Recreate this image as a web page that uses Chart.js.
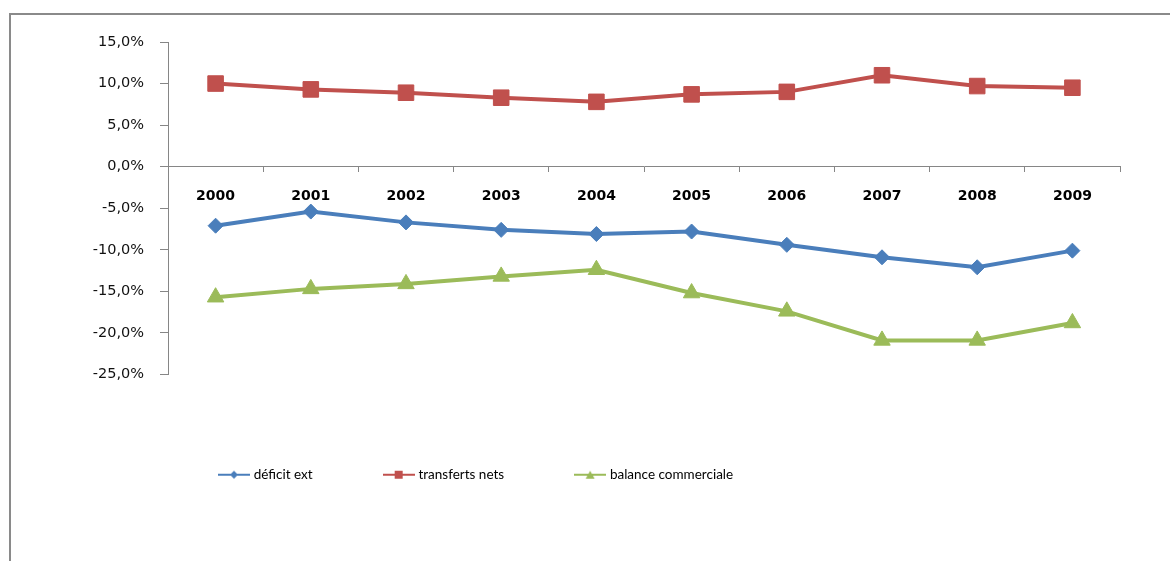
<!DOCTYPE html>
<html>
<head>
<meta charset="utf-8">
<script src="https://cdn.jsdelivr.net/npm/chart.js@4/dist/chart.umd.min.js"></script>
<style>
  body { margin: 0; background: #fff; }
  #frame {
    position: absolute; left: 9px; top: 13px; width: 1200px; height: 600px;
    border-top: 2px solid #8a8a8a; border-left: 2px solid #8a8a8a;
  }
  #my-chart { position: absolute; left: 0; top: 0; }
</style>
</head>
<body>
<div id="frame"></div>
<canvas id="my-chart" width="1170" height="561"></canvas>
<script>

let years = ['2000', '2001', '2002', '2003', '2004', '2005', '2006', '2007', '2008', '2009'];
let deficitExt = [-7.1, -5.4, -6.7, -7.6, -8.1, -7.8, -9.4, -10.9, -12.1, -10.1];
let transfertsNets = [10.0, 9.3, 8.9, 8.3, 7.8, 8.7, 9.0, 11.0, 9.7, 9.5];
let balanceCommerciale = [-15.7, -14.7, -14.1, -13.2, -12.4, -15.2, -17.4, -20.9, -20.9, -18.8];
let seriesNames = ['déficit ext', 'transferts nets', 'balance commerciale'];
let yMin = -25;
let yMax = 15;
let yStep = 5;

let blue = '#4a7ebb';
let red = '#c0504d';
let green = '#9bbb59';
let axisGray = '#868686';

// small line+marker icons for the legend
function legendIcon(color, shape) {
    let c = document.createElement('canvas');
    c.width = 32;
    c.height = 12;
    let ctx = c.getContext('2d');
    ctx.strokeStyle = color;
    ctx.fillStyle = color;
    ctx.lineWidth = 2;
    ctx.beginPath();
    ctx.moveTo(0, 6);
    ctx.lineTo(32, 6);
    ctx.stroke();
    ctx.beginPath();
    if (shape === 'diamond') {
        ctx.moveTo(16, 2);
        ctx.lineTo(20, 6);
        ctx.lineTo(16, 10);
        ctx.lineTo(12, 6);
    } else if (shape === 'square') {
        ctx.rect(12, 2, 8, 8);
    } else {
        ctx.moveTo(16, 2);
        ctx.lineTo(20.5, 10);
        ctx.lineTo(11.5, 10);
    }
    ctx.closePath();
    ctx.fill();
    return c;
}

let legendIcons = [
    legendIcon(blue, 'diamond'),
    legendIcon(red, 'square'),
    legendIcon(green, 'triangle')
];

function formatPct(value) {
    return value.toFixed(1).replace('.', ',') + '%';
}

// move the legend so it starts under the plot, like the original
let legendShift = {
    id: 'legendShift',
    afterLayout: function (chart) {
        chart.legend.left += 90;
        chart.legend.right += 90;
    }
};

let ctx = document.getElementById('my-chart').getContext('2d');

let chart = new Chart(ctx, {
    type: 'line',
    data: {
        labels: years,
        datasets: [{
            label: seriesNames[0],
            data: deficitExt,
            borderColor: blue,
            backgroundColor: blue,
            borderWidth: 4,
            pointStyle: 'rectRot',
            pointRadius: 7.5,
            pointBorderWidth: 1
        }, {
            label: seriesNames[1],
            data: transfertsNets,
            borderColor: red,
            backgroundColor: red,
            borderWidth: 4,
            pointStyle: 'rect',
            pointRadius: 11,
            pointBorderWidth: 1
        }, {
            label: seriesNames[2],
            data: balanceCommerciale,
            borderColor: green,
            backgroundColor: green,
            borderWidth: 4,
            pointStyle: 'triangle',
            pointRadius: 9.5,
            pointBorderWidth: 1
        }]
    },
    options: {
        responsive: false,
        animation: false,
        layout: {
            padding: { left: 58, right: 50, top: 42, bottom: 69.5 }
        },
        scales: {
            x: {
                position: { y: 0 },
                offset: true,
                grid: {
                    drawOnChartArea: false,
                    offset: true,
                    tickLength: 5,
                    color: axisGray
                },
                border: { color: axisGray },
                ticks: {
                    padding: 16,
                    maxRotation: 0,
                    color: '#000',
                    font: { family: 'DejaVu Sans', size: 14, weight: 'bold' }
                }
            },
            y: {
                min: yMin,
                max: yMax,
                afterFit: function (scale) {
                    scale.width = 110;
                },
                grid: {
                    drawOnChartArea: false,
                    tickLength: 8,
                    color: axisGray
                },
                border: { color: axisGray },
                ticks: {
                    stepSize: yStep,
                    padding: 16,
                    color: '#111',
                    font: { family: 'DejaVu Sans', size: 14.5 },
                    callback: function (value) {
                        return formatPct(value);
                    }
                }
            }
        },
        plugins: {
            tooltip: { enabled: false },
            legend: {
                position: 'bottom',
                align: 'start',
                title: {
                    display: true,
                    text: ' ',
                    font: { size: 10 },
                    padding: { top: 8.5, bottom: 0 }
                },
                labels: {
                    usePointStyle: true,
                    pointStyleWidth: 26,
                    padding: 73,
                    color: '#000',
                    font: { family: 'Lato', size: 13.5 },
                    generateLabels: function (chart) {
                        let items = Chart.defaults.plugins.legend.labels.generateLabels(chart);
                        for (let i = 0; i < items.length; i++) {
                            items[i].pointStyle = legendIcons[i];
                        }
                        return items;
                    }
                }
            }
        }
    },
    plugins: [legendShift]
});

</script>
</body>
</html>
